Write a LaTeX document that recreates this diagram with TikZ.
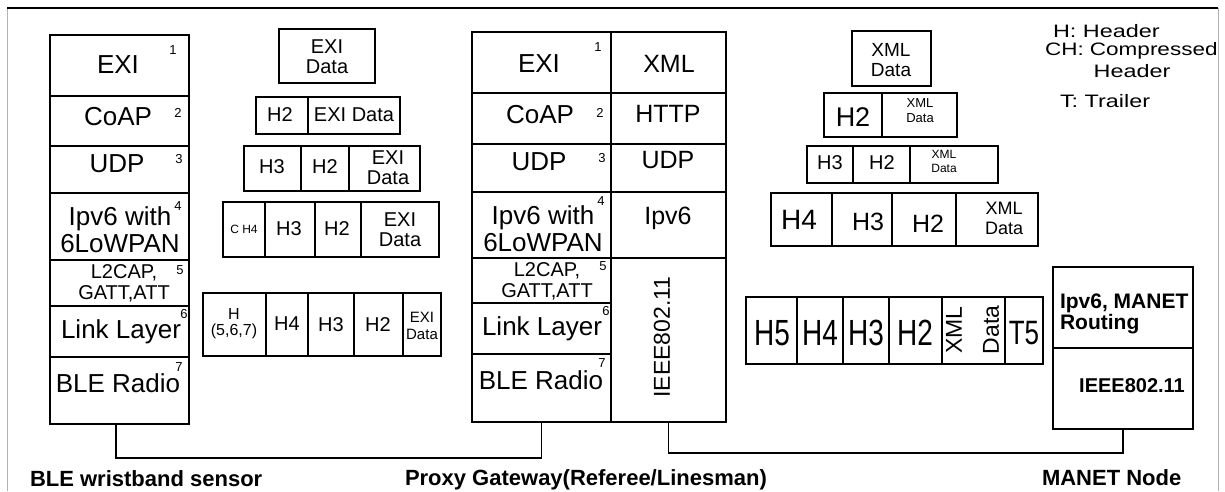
\documentclass[tikz,border=0pt]{standalone}
\usepackage{fontspec}
\usepackage{graphicx}
\setmainfont{Liberation Sans}
\newcommand\fs[2]{\fontsize{#1}{#2}\selectfont}
\newcommand\cbx[5]{\node[cell,minimum width={#4-#2},minimum height={#5-#3}] (#1) at ({(#2+#4)/2},{(#3+#5)/2}) {};}
\begin{document}
\begin{tikzpicture}[x=1pt,y=-1pt,
  cell/.style={draw,rectangle,line width=1.3pt,inner sep=0pt,outer sep=0pt},
  txt/.style={inner sep=0pt,outer sep=0pt,align=center},
  big/.style={txt,font=\fs{26}{27}},
  rbig/.style={txt,font=\fs{25}{26}},
  mid/.style={txt,font=\fs{20}{21}},
  num/.style={txt,font=\fs{13}{13}},
  pk/.style={txt,font=\fs{20}{20}},
  lab/.style={txt,anchor=west,font=\fs{22}{24}\bfseries},
  leg/.style={txt,anchor=west,font=\fs{18}{20}},
  link/.style={line width=1.3pt}]
\useasboundingbox (0,0) rectangle (1225,491);
% frame
\draw[gray!60,line width=0.8pt] (7,491) -- (7,8);
\draw[gray!60,line width=0.8pt] (1218,8) -- (1218,491);
\draw[line width=1.4pt] (7,8) -- (1218,8);

% ---------- BLE wristband stack ----------
\cbx{b1}{50}{35}{189}{96}
\cbx{b2}{50}{96}{189}{146}
\cbx{b3}{50}{146}{189}{193}
\cbx{b4}{50}{193}{189}{260}
\cbx{b5}{50}{260}{189}{306}
\cbx{b6}{50}{306}{189}{357}
\cbx{b7}{50}{357}{189}{424}
\node[big] (tb1) at (118,65) {EXI};
\node[big] (tb2) at (118,117) {CoAP};
\node[big] (tb3) at (117,164) {UDP};
\node[big] (tb4) at (120,230) {Ipv6 with\\6LoWPAN};
\node[mid] (tb5) at (124,283) {L2CAP,\\GATT,ATT};
\node[big] (tb6) at (121,332) {Link Layer};
\node[big] (tb7) at (118,383) {BLE Radio};
\node[num] (nb1) at (173,50) {1};
\node[num] (nb2) at (178,113) {2};
\node[num] (nb3) at (179,159) {3};
\node[num] (nb4) at (178,206) {4};
\node[num] (nb5) at (180,270) {5};
\node[num] (nb6) at (184,314) {6};
\node[num] (nb7) at (179,367) {7};

% ---------- Gateway stack ----------
\cbx{g1}{472}{32}{611}{93}
\cbx{g2}{472}{93}{611}{144}
\cbx{g3}{472}{144}{611}{192}
\cbx{g4}{472}{192}{611}{258}
\cbx{g5}{472}{258}{611}{303}
\cbx{g6}{472}{303}{611}{354}
\cbx{g7}{472}{354}{611}{422}
\cbx{r1}{611}{32}{726}{93}
\cbx{r2}{611}{93}{726}{144}
\cbx{r3}{611}{144}{726}{192}
\cbx{r4}{611}{192}{726}{258}
\cbx{r5}{611}{258}{726}{422}
\node[big] (tg1) at (539,64) {EXI};
\node[big] (tg2) at (540,115) {CoAP};
\node[big] (tg3) at (539,162) {UDP};
\node[big] (tg4) at (543,229) {Ipv6 with\\6LoWPAN};
\node[mid] (tg5) at (547,281) {L2CAP,\\GATT,ATT};
\node[big] (tg6) at (542,329) {Link Layer};
\node[big] (tg7) at (541,380) {BLE Radio};
\node[num] (ng1) at (598,47) {1};
\node[num] (ng2) at (600,113) {2};
\node[num] (ng3) at (602,158) {3};
\node[num] (ng4) at (601,201) {4};
\node[num] (ng5) at (603,266) {5};
\node[num] (ng6) at (606,311) {6};
\node[num] (ng7) at (602,363) {7};
\node[rbig] (tr1) at (669,64) {XML};
\node[rbig] (tr2) at (668,114) {HTTP};
\node[rbig] (tr3) at (668,160) {UDP};
\node[rbig] (tr4) at (668,218) {Ipv6};
\node[txt,font=\fs{23}{24},rotate=90] (tr5) at (662,337) {IEEE802.11};

% ---------- EXI packets ----------
\cbx{p1}{279}{29}{375}{83}
\node[pk] (tp1) at (327,57) {EXI\\Data};
\cbx{p2a}{256}{97}{308}{134}
\cbx{p2b}{308}{97}{400}{134}
\node[pk] (tp2a) at (280,115) {H2};
\node[pk] (tp2b) at (354,115) {EXI Data};
\cbx{p3a}{244}{146}{301}{191}
\cbx{p3b}{301}{146}{349}{191}
\cbx{p3c}{349}{146}{420}{191}
\node[pk] (tp3a) at (272,167) {H3};
\node[pk] (tp3b) at (325,167) {H2};
\node[pk] (tp3c) at (388,168) {EXI\\Data};
\cbx{p4a}{223}{202}{265}{257}
\cbx{p4b}{265}{202}{315}{257}
\cbx{p4c}{315}{202}{361}{257}
\cbx{p4d}{361}{202}{439}{257}
\node[txt,font=\fs{12}{13}] (tp4a) at (244,229) {C H4};
\node[pk] (tp4b) at (289,229) {H3};
\node[pk] (tp4c) at (337,229) {H2};
\node[pk] (tp4d) at (400,230) {EXI\\Data};
\cbx{p5a}{203}{293}{266}{356}
\cbx{p5b}{266}{293}{308}{356}
\cbx{p5c}{308}{293}{354}{356}
\cbx{p5d}{354}{293}{403}{356}
\cbx{p5e}{403}{293}{441}{356}
\node[txt,font=\fs{16}{16}] (tp5a) at (234,324) {H\\(5,6,7)};
\node[pk] (tp5b) at (287,324) {H4};
\node[pk] (tp5c) at (331,325) {H3};
\node[pk] (tp5d) at (378,325) {H2};
\node[txt,font=\fs{15}{17}] (tp5e) at (422,326) {EXI\\Data};

% ---------- XML packets ----------
\cbx{q1}{852}{31}{931}{86}
\node[txt,font=\fs{19}{20}] (tq1) at (891,60) {XML\\Data};
\cbx{q2a}{824}{93}{882}{137}
\cbx{q2b}{882}{93}{957}{137}
\node[txt,font=\fs{27}{27}] (tq2a) at (853,117) {H2};
\node[txt,font=\fs{13}{15}] (tq2b) at (920,111) {XML\\Data};
\cbx{q3a}{807}{146}{853}{183}
\cbx{q3b}{853}{146}{910}{183}
\cbx{q3c}{910}{146}{998}{183}
\node[pk] (tq3a) at (830,163) {H3};
\node[pk] (tq3b) at (882,163) {H2};
\node[txt,font=\fs{12}{14}] (tq3c) at (944,161) {XML\\Data};
\cbx{q4a}{771}{193}{832}{246}
\cbx{q4b}{832}{193}{892}{246}
\cbx{q4c}{892}{193}{956}{246}
\cbx{q4d}{956}{193}{1038}{246}
\node[txt,font=\fs{28}{28}] (tq4a) at (799,220) {H4};
\node[txt,font=\fs{25}{25}] (tq4b) at (868,222) {H3};
\node[txt,font=\fs{25}{25}] (tq4c) at (928,224) {H2};
\node[txt,font=\fs{18}{20}] (tq4d) at (1004,218) {XML\\Data};

% ---------- MANET packet ----------
\cbx{m1}{746}{297}{797}{364}
\cbx{m2}{797}{297}{843}{364}
\cbx{m3}{843}{297}{889}{364}
\cbx{m4}{889}{297}{942}{364}
\cbx{m5}{942}{297}{1005}{364}
\cbx{m6}{1005}{297}{1043}{364}
\node[txt,font=\fs{28}{28}] (tm1) at (772,333) {\scalebox{1}[1.3]{H5}};
\node[txt,font=\fs{28}{28}] (tm2) at (820,333) {\scalebox{1}[1.3]{H4}};
\node[txt,font=\fs{28}{28}] (tm3) at (866,333) {\scalebox{1}[1.3]{H3}};
\node[txt,font=\fs{28}{28}] (tm4) at (915,333) {\scalebox{1}[1.3]{H2}};
\node[txt,font=\fs{23}{23},rotate=90] (tm5a) at (954,330) {XML};
\node[txt,font=\fs{23}{23},rotate=90] (tm5b) at (991,330) {Data};
\node[txt,font=\fs{26}{26}] (tm6) at (1024,333) {\scalebox{1}[1.3]{T5}};

% ---------- MANET node ----------
\cbx{mn1}{1053}{267}{1193}{348}
\cbx{mn2}{1053}{348}{1193}{429}
\node[txt,anchor=west,align=left,font=\fs{21}{19}\bfseries] (tmn1) at (1060,314) {Ipv6, MANET\\Routing};
\node[txt,font=\fs{20}{20}\bfseries] (tmn2) at (1132,386) {IEEE802.11};

% ---------- legend ----------
\node[leg] (l1) at (1053,31) {\scalebox{1.3}[1]{H: Header}};
\node[leg] (l2) at (1045,51) {\scalebox{1.25}[1]{CH: Compressed}};
\node[txt,font=\fs{18}{20}] (l3) at (1132,71) {\scalebox{1.3}[1]{Header}};
\node[leg] (l4) at (1060,101) {\scalebox{1.3}[1]{T: Trailer}};

% ---------- labels ----------
\node[lab] (lb1) at (30,479) {BLE wristband sensor};
\node[lab] (lb2) at (405,480) {Proxy Gateway(Referee/Linesman)};
\node[lab] (lb3) at (1042,478) {MANET Node};

% ---------- connectors ----------
\draw[link] ([xshift=-3.5pt]b7.south) -- ++(0,34) -| (g7.south);
\draw[link] (r5.south) -- ++(0,31) -| (mn2.south);
\end{tikzpicture}
\end{document}
